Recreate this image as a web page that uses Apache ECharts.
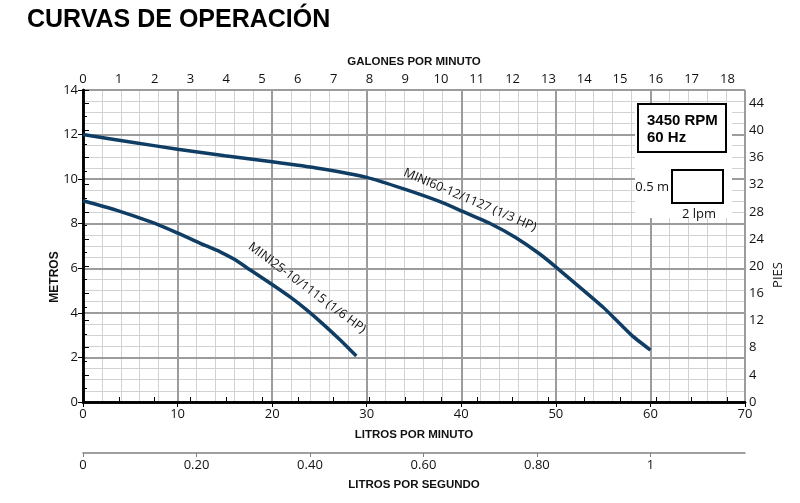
<!DOCTYPE html>
<html>
<head>
<meta charset="utf-8">
<script src="https://cdn.jsdelivr.net/npm/echarts@6/dist/echarts.min.js"></script>
<style>
  html, body { margin: 0; padding: 0; background: #fff; }
  #chart { width: 800px; height: 503px; }
</style>
</head>
<body>
<div id="chart"></div>
<script>
// ===== 数据 =====
// MINI60-12/1127 (1/3 HP): [litros por minuto, metros]
const mini60 = [
  [0, 12.0], [5, 11.67], [10, 11.34], [15, 11.05], [20, 10.78], [25, 10.48],
  [30, 10.08], [34, 9.55], [37.75, 8.99], [40, 8.58], [43, 8.02], [45.7, 7.39],
  [48.3, 6.64], [50.3, 5.95], [55, 4.25], [58, 3.0], [60, 2.33]
]
// MINI25-10/1115 (1/6 HP)
const mini25 = [
  [0, 9.03], [3.5, 8.61], [7.1, 8.09], [9.9, 7.6], [12.4, 7.12], [14.5, 6.74],
  [16, 6.4], [17.7, 5.92], [20, 5.27], [22, 4.68], [23.65, 4.13], [25.5, 3.45],
  [27.2, 2.78], [28.9, 2.06]
]
const curveNames = ['MINI60-12/1127 (1/3 HP)', 'MINI25-10/1115 (1/6 HP)']

// ===== 坐标轴范围 =====
const lpmMax = 70
const mMax = 14
const gpmMax = lpmMax / 3.78541   // galones por minuto
const ftMax = mMax / 0.3048       // pies
const lpsMax = lpmMax / 60        // litros por segundo

const tickFont = { fontFamily: 'Open Sans', fontSize: 13, color: '#111' }
const nameFont = { fontFamily: 'Liberation Sans', fontWeight: 'bold', fontSize: 11.5, color: '#111' }
const blackLine = { show: true, lineStyle: { color: '#000', width: 2.5 } }
const blackTick = { show: true, length: 5, lineStyle: { color: '#000', width: 1 } }
const majorGrid = { show: true, lineStyle: { color: '#9c9c9c', width: 2 } }
const minorGrid = { show: true, lineStyle: { color: '#d2d2d2', width: 1 } }
const curveColor = '#0f3d64'

// 只画细网格线的隐藏轴
const minorAxis = (extra) => ({
  type: 'value', gridIndex: 0, z: 0,
  axisLine: { show: false }, axisTick: { show: false }, axisLabel: { show: false },
  splitLine: minorGrid,
  ...extra
})

const chart = echarts.init(document.getElementById('chart'))

chart.setOption({
  animation: false,
  title: {
    text: 'CURVAS DE OPERACIÓN',
    left: 22, top: 3,
    textStyle: { fontFamily: 'Liberation Sans', fontWeight: 'bold', fontSize: 25, color: '#000' }
  },
  grid: [
    { left: 83, right: 55, top: 90, bottom: 101 },
    { left: 83, right: 55, top: 452, height: 1 }
  ],
  xAxis: [
    {
      type: 'value', gridIndex: 0, position: 'bottom', z: 1,
      min: 0, max: lpmMax, interval: 10,
      name: 'LITROS POR MINUTO', nameLocation: 'middle', nameGap: 27, nameTextStyle: nameFont,
      axisLine: blackLine,
      axisTick: blackTick,
      axisLabel: { ...tickFont, margin: 6 },
      splitLine: majorGrid
    },
    {
      type: 'value', gridIndex: 0, position: 'top', z: 1,
      min: 0, max: gpmMax, interval: 1,
      name: 'GALONES POR MINUTO', nameLocation: 'middle', nameGap: 22, nameTextStyle: nameFont,
      axisLine: blackLine,
      axisTick: blackTick,
      axisLabel: { ...tickFont, margin: 4, showMaxLabel: false },
      splitLine: { show: false }
    },
    {
      type: 'value', gridIndex: 1, position: 'bottom',
      min: 0, max: lpsMax, interval: 0.2,
      name: 'LITROS POR SEGUNDO', nameLocation: 'middle', nameGap: 26, nameTextStyle: nameFont,
      axisLine: { show: true, lineStyle: { color: '#808080', width: 1.5 } },
      axisTick: { show: true, length: 4, lineStyle: { color: '#808080' } },
      axisLabel: {
        ...tickFont, margin: 6, showMaxLabel: false,
        formatter: v => (v === 0 ? '0' : Math.abs(v - 1) < 1e-6 ? '1' : v.toFixed(2))
      },
      splitLine: { show: false }
    },
    minorAxis({ position: 'bottom', min: 0, max: lpmMax, interval: 2 })
  ],
  yAxis: [
    {
      type: 'value', gridIndex: 0, position: 'left', z: 1,
      min: 0, max: mMax, interval: 2,
      axisLine: blackLine,
      axisTick: blackTick,
      axisLabel: { ...tickFont, margin: 5 },
      splitLine: majorGrid
    },
    {
      type: 'value', gridIndex: 0, position: 'right', z: 1,
      min: 0, max: ftMax, interval: 4,
      axisLine: blackLine,
      axisTick: { show: true, length: 6, lineStyle: { color: '#000', width: 1 } },
      minorTick: { show: true, splitNumber: 2, length: 4, lineStyle: { color: '#000', width: 1 } },
      axisLabel: { ...tickFont, margin: 4, showMaxLabel: false },
      splitLine: { show: false }
    },
    { type: 'value', gridIndex: 1, show: false, min: 0, max: 1 },
    minorAxis({ position: 'left', min: 0, max: mMax, interval: 0.5 })
  ],
  series: [
    {
      name: curveNames[0], type: 'line', xAxisIndex: 0, yAxisIndex: 0,
      data: mini60, smooth: 0.2, symbol: 'none', z: 3,
      lineStyle: { color: curveColor, width: 3.5 }
    },
    {
      name: curveNames[1], type: 'line', xAxisIndex: 0, yAxisIndex: 0,
      data: mini25, smooth: 0.2, symbol: 'none', z: 3,
      lineStyle: { color: curveColor, width: 3.5 }
    }
  ],
  graphic: [
    // 右上角白色区域与说明框
    { type: 'rect', z: 5, shape: { x: 635, y: 103, width: 97, height: 115 }, style: { fill: '#fff' } },
    { type: 'rect', z: 6, shape: { x: 638, y: 104, width: 88, height: 48 }, style: { fill: '#fff', stroke: '#000', lineWidth: 2 } },
    { type: 'text', z: 7, x: 647, y: 121, style: { text: '3450 RPM', font: 'bold 15px "Liberation Sans"', fill: '#000', verticalAlign: 'middle' } },
    { type: 'text', z: 7, x: 647, y: 138, style: { text: '60 Hz', font: 'bold 15px "Liberation Sans"', fill: '#000', verticalAlign: 'middle' } },
    { type: 'rect', z: 6, shape: { x: 672, y: 170, width: 51, height: 33 }, style: { fill: '#fff', stroke: '#000', lineWidth: 2 } },
    { type: 'text', z: 7, x: 669, y: 187, style: { text: '0.5 m', font: '13px "Open Sans"', fill: '#111', align: 'right', verticalAlign: 'middle' } },
    { type: 'text', z: 7, x: 699, y: 214, style: { text: '2 lpm', font: '13px "Open Sans"', fill: '#111', align: 'center', verticalAlign: 'middle' } },
    // 曲线标签
    { type: 'text', z: 7, x: 470, y: 200, rotation: -0.4, style: { text: curveNames[0], font: '12.5px "Open Sans"', fill: '#111', align: 'center', verticalAlign: 'middle' } },
    { type: 'text', z: 7, x: 307, y: 288, rotation: -0.64, style: { text: curveNames[1], font: '12.5px "Open Sans"', fill: '#111', align: 'center', verticalAlign: 'middle' } },
    // 纵轴名称
    { type: 'text', z: 7, x: 55, y: 277, rotation: Math.PI / 2, style: { text: 'METROS', font: 'bold 12px "Liberation Sans"', fill: '#111', align: 'center', verticalAlign: 'middle' } },
    { type: 'text', z: 7, x: 778, y: 275, rotation: Math.PI / 2, style: { text: 'PIES', font: '13px "Open Sans"', fill: '#111', align: 'center', verticalAlign: 'middle' } }
  ]
})
</script>
</body>
</html>
